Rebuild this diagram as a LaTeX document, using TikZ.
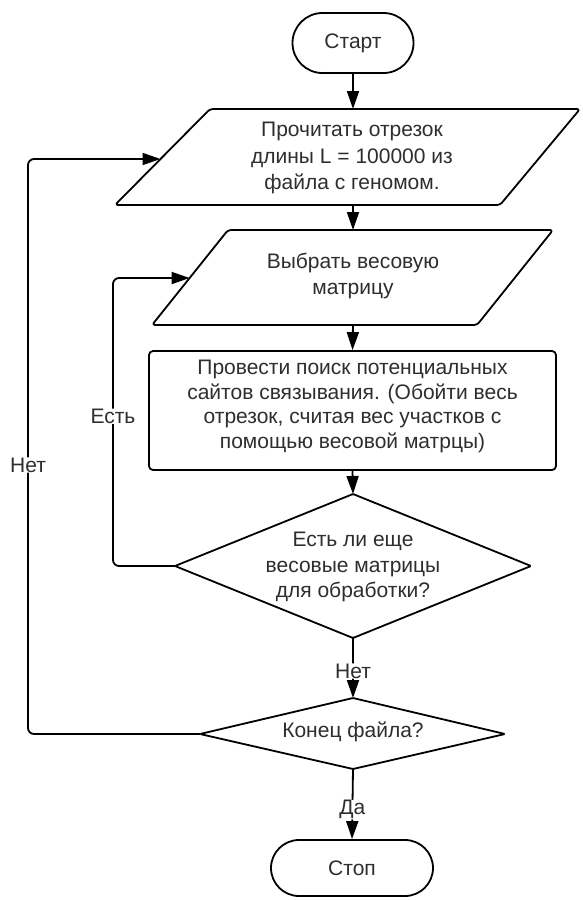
\documentclass[tikz,border=0pt]{standalone}
\usepackage{fontspec}
\setmainfont{Liberation Sans}
\usetikzlibrary{arrows.meta}
\begin{document}
\begin{tikzpicture}[x=1pt,y=-1pt,
  every node/.style={font=\fontsize{21}{26.5}\selectfont, text=black!82},
  shapeline/.style={draw=black, line width=1.8pt, line join=round, fill=white},
  terminal/.style={shapeline, minimum height=#1, rounded corners=0.5*#1},
  txt/.style={align=center, inner sep=0pt},
  flow/.style={draw=black, line width=1.8pt, rounded corners=6pt,
    -{Triangle[length=18pt,width=12pt]}},
  lbl/.style={fill=white, inner sep=0.3pt}]
\useasboundingbox (0,0) rectangle (582,900);

% terminal: start
\node[terminal=60pt, minimum width=121pt] (start) at (353,43) {Старт};

% input: read a segment of the genome
\draw[shapeline, rounded corners=3pt] (210,109) -- (580,109) -- (500,205) -- (115,205) -- cycle;
\node[txt] (read) at (352,158) {Прочитать отрезок\\длины L = 100000 из\\файла с геномом.};
\coordinate (readtop) at (353,109);
\coordinate (readbot) at (353,205);
\coordinate (readleft) at (160.5,159);

% input: choose a weight matrix
\draw[shapeline, rounded corners=3pt] (228,230) -- (553,230) -- (477,325) -- (152,325) -- cycle;
\node[txt] (choose) at (353,276) {Выбрать весовую\\матрицу};
\coordinate (choosetop) at (353,230);
\coordinate (choosebot) at (353,325);
\coordinate (chooseleft) at (189.6,278);

% process: search for binding sites
\node[shapeline, rounded corners=4pt, minimum width=407pt, minimum height=119pt,
  inner sep=0pt] (search) at (352.5,410.5) {};
\node[txt, font=\fontsize{21}{24.5}\selectfont] (searchtext) at (352.5,406.5)
  {Провести поиск потенциальных\\сайтов связывания. (Обойти весь\\отрезок, считая вес участков с\\помощью весовой матрцы)};

% decision: more matrices?
\draw[shapeline, rounded corners=1pt] (353,494) -- (531,566) -- (353,638) -- (175,566) -- cycle;
\node[txt, font=\fontsize{21}{25.5}\selectfont] (more) at (353,567) {Есть ли еще\\весовые матрицы\\для обработки?};
\coordinate (moretop) at (353,494);
\coordinate (morebot) at (353,638);
\coordinate (moreleft) at (175,566);

% decision: end of file?
\draw[shapeline, rounded corners=1pt] (353,698) -- (505,734) -- (353,769) -- (200,734) -- cycle;
\node[txt] (eof) at (353,732) {Конец файла?};
\coordinate (eoftop) at (353,698);
\coordinate (eofbot) at (353,769);
\coordinate (eofleft) at (200,734);

% terminal: stop
\node[terminal=56pt, minimum width=162pt] (stop) at (352,868) {Стоп};

% bend points of the two loops
\coordinate (inloopA) at (113,566);
\coordinate (inloopB) at (113,278);
\coordinate (outloopA) at (28,734);
\coordinate (outloopB) at (28,159);

% connectors
\draw[flow] (start.south) -- (readtop);
\draw[flow] (readbot) -- (choosetop);
\draw[flow] (choosebot) -- (search.north);
\draw[flow] (search.south) -- (moretop);
\draw[flow] (morebot) -- node[lbl, pos=0.55] {Нет} (eoftop);
\draw[flow] (eofbot) -- node[lbl, pos=0.58] {Да} (stop.north);
\draw[flow] (moreleft) -- (inloopA) -- node[lbl, pos=0.52] {Есть} (inloopB) -- (chooseleft);
\draw[flow] (eofleft) -- (outloopA) -- node[lbl, pos=0.468] {Нет} (outloopB) -- (readleft);
\end{tikzpicture}
\end{document}
